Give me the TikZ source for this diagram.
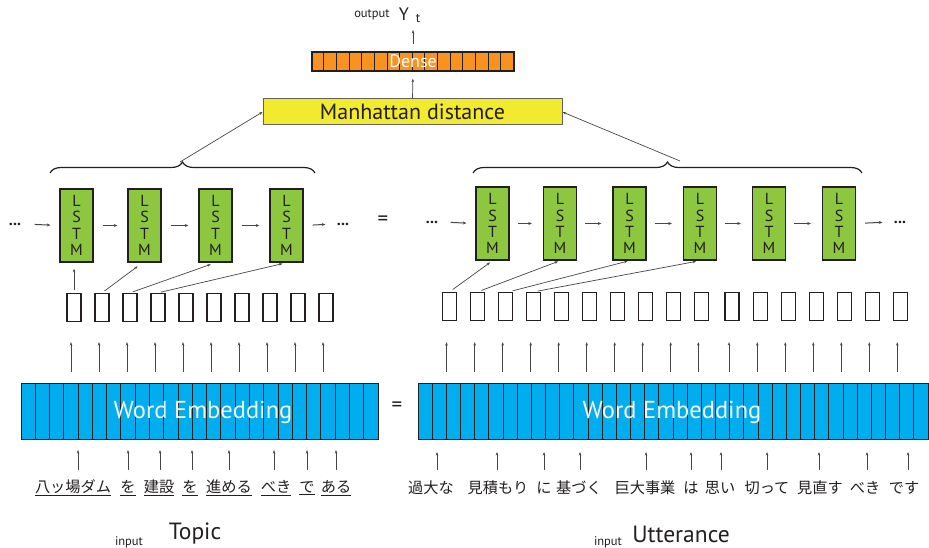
\documentclass[tikz,border=0pt]{standalone}
\usepackage{fontspec}
\setmainfont{PT Sans}
\newfontfamily\jp{Noto Sans CJK JP}
\usetikzlibrary{arrows.meta,decorations.pathreplacing}
\definecolor{lstmgreen}{RGB}{141,198,63}
\definecolor{embblue}{RGB}{0,174,239}
\definecolor{denseorange}{RGB}{247,147,30}
\definecolor{manyellow}{RGB}{242,234,46}
\definecolor{edgec}{RGB}{35,31,32}
\definecolor{arrc}{RGB}{70,70,70}
\begin{document}
\begin{tikzpicture}[x=1pt,y=-1pt,
  lstmbox/.style={draw=edgec,line width=1.4pt,fill=lstmgreen,minimum width=33pt,minimum height=73pt,inner sep=0pt,
    font=\fontsize{16}{16.2}\selectfont,text=edgec,align=center},
  wbox/.style={draw=edgec,line width=1.3pt,fill=white,minimum width=14pt,minimum height=28pt,inner sep=0pt},
  arrowline/.style={draw=arrc,line width=0.7pt,-{Stealth[length=3.5pt,width=2.6pt]}},
  flowarrow/.style={draw=arrc,line width=1pt,-{Stealth[length=3.5pt,width=3pt]}},
  embbox/.style={draw=edgec,line width=1.4pt,fill=embblue,minimum height=56pt,inner sep=0pt,anchor=north west},
  celldiv/.style={draw=edgec,line width=1pt},
  embtext/.style={text=white!93!gray,font=\fontsize{24.5}{24.5}\selectfont},
  jword/.style={font=\jp\fontsize{15.2}{15.2}\selectfont,text=edgec,inner sep=1pt},
  dots/.style={font=\fontsize{16}{16}\selectfont\bfseries,text=edgec},
  eqsign/.style={font=\fontsize{21}{21}\selectfont,text=edgec},
  bigl/.style={font=\fontsize{23.5}{23.5}\selectfont,text=edgec},
  smalll/.style={font=\fontsize{12.5}{12.5}\selectfont,text=edgec},
  bracestyle/.style={draw=edgec,line width=1.2pt,decorate,decoration={brace,amplitude=11pt,aspect=0.5}}
]
\useasboundingbox (0,0) rectangle (929,548);
\fill[white] (0,0) rectangle (929,548);

% ---------------- output / dense / manhattan
\node[smalll] (outlab) at (372,15) {output};
\node[font=\fontsize{18}{18}\selectfont,text=edgec,inner sep=0pt] (Y) at (404,14) {Y};
\node[font=\fontsize{13}{13}\selectfont,text=edgec,inner sep=0pt] (Ysub) at (418,19) {t};
\coordinate (ytop) at (413,30);

\node[draw=edgec,line width=1.3pt,fill=denseorange,minimum width=202pt,minimum height=19pt,inner sep=0pt] (dense) at (413,61.5) {};
\foreach \i in {1,...,15}
  \draw[celldiv] ([xshift=\i*12.625pt]dense.north west) -- ([xshift=\i*12.625pt]dense.south west);
\node[text=white,font=\fontsize{18}{18}\selectfont] (densetxt) at (dense.center) {Dense};

\node[draw=edgec!70,line width=1pt,fill=manyellow,minimum width=299pt,minimum height=26pt,inner sep=0pt,
      font=\fontsize{22}{22}\selectfont,text=edgec] (man) at (412.5,112) {Manhattan distance};

\draw[arrowline,shorten <=7pt] (dense.north) -- (ytop);
\draw[arrowline,shorten >=7pt] (man.north) -- (dense.south);

% ---------------- braces
\draw[bracestyle] (50,173) -- (315,173);
\draw[bracestyle] (473,173) -- (862,173);
\coordinate (bl) at (180,162);
\coordinate (br) at (680,161);
\draw[arrowline] (bl) -- (man.west);
\draw[arrowline] (br) -- (man.east);

% ---------------- LSTMs left
\node[lstmbox] (L1) at (76.5,225.5) {L\\S\\T\\M};
\node[lstmbox] (L2) at (144.5,225.5) {L\\S\\T\\M};
\node[lstmbox] (L3) at (215.5,225.5) {L\\S\\T\\M};
\node[lstmbox] (L4) at (286.5,225.5) {L\\S\\T\\M};
\node[dots] (dl1) at (15,224) {...};
\node[dots] (dl2) at (343,224) {...};
\draw[flowarrow,shorten <=10pt,shorten >=9pt] (dl1.east) -- (L1.west);
\draw[flowarrow,shorten <=9pt,shorten >=10pt] (L1.east) -- (L2.west);
\draw[flowarrow,shorten <=9pt,shorten >=10pt] (L2.east) -- (L3.west);
\draw[flowarrow,shorten <=9pt,shorten >=10pt] (L3.east) -- (L4.west);
\draw[flowarrow,shorten <=9pt,shorten >=8pt] (L4.east) -- (dl2.west);
\node[eqsign] (eq1) at (383,221) {=};

% ---------------- LSTMs right
\node[lstmbox] (R1) at (492.5,223.5) {L\\S\\T\\M};
\node[lstmbox] (R2) at (560,223.5) {L\\S\\T\\M};
\node[lstmbox] (R3) at (629.5,223.5) {L\\S\\T\\M};
\node[lstmbox] (R4) at (700,223.5) {L\\S\\T\\M};
\node[lstmbox] (R5) at (769,223.5) {L\\S\\T\\M};
\node[lstmbox] (R6) at (839,223.5) {L\\S\\T\\M};
\node[dots] (dr1) at (432,222) {...};
\node[dots] (dr2) at (900,222) {...};
\draw[flowarrow,shorten <=9pt,shorten >=9pt] (dr1.east) -- (R1.west);
\foreach \a/\b in {R1/R2,R2/R3,R3/R4,R4/R5,R5/R6}
  \draw[flowarrow,shorten <=8pt,shorten >=11pt] (\a.east) -- (\b.west);
\draw[flowarrow,shorten <=9pt,shorten >=8pt] (R6.east) -- (dr2.west);

% ---------------- word boxes left
\foreach \x [count=\i] in {74,102,130,158,186,214,242,270,298,326}
  \node[wbox] (bl\i) at (\x,307.5) {};
% ---------------- word boxes right
\foreach \x [count=\i] in {449.5,477.7,505.7,533.7,561.7,589.7,617.7,645.7,673.7,701.3,732,760.3,788.3,816.3,844.3,872.3,900.3}
  \node[wbox] (br\i) at (\x,306.5) {};

% box -> LSTM
\draw[arrowline,shorten <=3pt,shorten >=6pt] (bl1.north) -- (bl1.north |- L1.south);
\draw[arrowline,shorten <=3pt,shorten >=6pt] (bl2.north) -- ([xshift=-2pt]L2.south);
\draw[arrowline,shorten <=3pt,shorten >=5pt] (bl3.north) -- (L3.south);
\draw[arrowline,shorten <=3pt,shorten >=4pt] (bl4.north) -- (L4.south);
\draw[arrowline,shorten <=4pt,shorten >=3pt] (br1.north) -- (R1.south);
\draw[arrowline,shorten <=4pt,shorten >=2pt] (br2.north) -- (R2.south);
\draw[arrowline,shorten <=4pt,shorten >=2pt] ([xshift=3pt]br3.north) -- (R3.south);
\draw[arrowline,shorten <=4pt,shorten >=4pt] (br4.north) -- (R4.south);

% ---------------- embeddings
\node[embbox,minimum width=357pt] (embL) at (21,383) {};
\foreach \i in {1,...,24}
  \draw[celldiv] ([xshift=\i*14.28pt]embL.north west) -- ([xshift=\i*14.28pt]embL.south west);
\node[embtext] (embLt) at (203,412) {Word Embedding};

\begin{scope}
\clip (0,0) rectangle (929,548);
\node[embbox,minimum width=524pt] (embR) at (418,383) {};
\foreach \i in {1,...,36}
  \draw[celldiv] ([xshift=\i*14.17pt]embR.north west) -- ([xshift=\i*14.17pt]embR.south west);
\end{scope}
\node[embtext] (embRt) at (672,412) {Word Embedding};
\node[eqsign] (eq2) at (397,407) {=};

% embedding -> boxes
\foreach \i in {1,...,10}
  \draw[arrowline] ([xshift=-3pt]bl\i.south |- embL.north) ++(0,-11) -- ([xshift=-3pt,yshift=-20pt]bl\i.south);
\foreach \i in {1,...,17}
  \draw[arrowline] ([xshift=-3pt]br\i.south |- embR.north) ++(0,-11) -- ([xshift=-3pt,yshift=-21pt]br\i.south);

% ---------------- words left
\node[jword] (wl1) at (73,488) {\underline{八ッ場ダム}};
\node[jword] (wl2) at (128,488) {\underline{を}};
\node[jword] (wl3) at (159,488) {\underline{建設}};
\node[jword] (wl4) at (190,488) {\underline{を}};
\node[jword] (wl5) at (229,488) {\underline{進める}};
\node[jword] (wl6) at (276,488) {\underline{べき}};
\node[jword] (wl7) at (307,488) {\underline{で}};
\node[jword] (wl8) at (336,488) {\underline{ある}};
\foreach \x [count=\i] in {78,128,160,192,229,274,307,336}
  \draw[arrowline] (\x,470) -- (\x,450);

% ---------------- words right
\node[jword] (wr1) at (431,488) {過大な};
\node[jword] (wr2) at (498,488) {見積もり};
\node[jword] (wr3) at (544,488) {に};
\node[jword] (wr4) at (579,488) {基づく};
\node[jword] (wr5) at (645,488) {巨大事業};
\node[jword] (wr6) at (691,488) {は};
\node[jword] (wr7) at (720,488) {思い};
\node[jword] (wr8) at (767,488) {切って};
\node[jword] (wr9) at (820,488) {見直す};
\node[jword] (wr10) at (865,488) {べき};
\node[jword] (wr11) at (904,488) {です};
\foreach \x in {437,497,544,580,646,691,721,767,819,867,908}
  \draw[arrowline] (\x,470) -- (\x,452);

% ---------------- bottom labels
\node[smalll] (in1) at (129,542) {input};
\node[bigl] (topic) at (195,534) {Topic};
\node[smalll] (in2) at (608,542) {input};
\node[bigl] (utt) at (681,534) {Utterance};
\end{tikzpicture}
\end{document}
